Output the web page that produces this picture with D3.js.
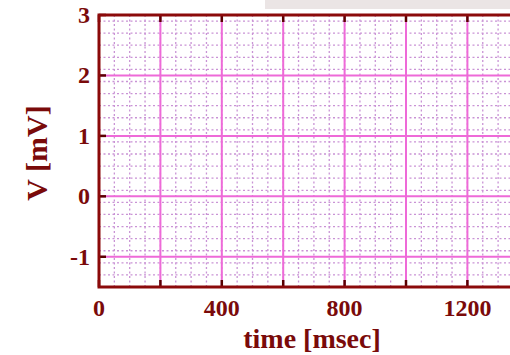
<!DOCTYPE html>
<html>
<head>
<meta charset="utf-8">
<script src="https://cdn.jsdelivr.net/npm/d3@7"></script>
<style>
  body { margin: 0; background: #fff; }
  svg { display: block; }
  .lbl { font-family: "Liberation Serif", "DejaVu Serif", serif; font-weight: bold; fill: #7a0a0a; }
</style>
</head>
<body>
<svg id="chart" width="510" height="355"></svg>
<script>
// axis values
var xTicks = [0, 400, 800, 1200];
var yTicks = [-1, 0, 1, 2, 3];
var xMajor = [0, 200, 400, 600, 800, 1000, 1200, 1400];
var yMajor = [-1, 0, 1, 2, 3];
var xDomain = [0, 1400];
var yDomain = [-1.5, 3];
var xMinorStep = 50;
var yMinorStep = 0.2;

var svg = d3.select("#chart");

var x = d3.scaleLinear().domain(xDomain).range([99, 99 + 1400 * 0.307]);
var y = d3.scaleLinear().domain(yDomain).range([287, 15]);

// grey strip at the very top (scan artefact)
svg.append("rect")
  .attr("x", 265).attr("y", 0).attr("width", 245).attr("height", 9)
  .style("fill", "#ebe5e5");

var xMinor = d3.range(xDomain[0], xDomain[1] + 1, xMinorStep);
var yMinor = d3.range(yDomain[0], yDomain[1] + 0.001, yMinorStep).map(v => Math.round(v * 10) / 10);

var g = svg.append("g");

// dotted minor grid
g.selectAll("line.minx")
  .data(xMinor)
  .join("line")
  .classed("minx", true)
  .attr("x1", d => x(d)).attr("x2", d => x(d))
  .attr("y1", y(yDomain[1])).attr("y2", y(yDomain[0]))
  .style("stroke", "#c993d5")
  .style("stroke-width", "1.3px")
  .style("stroke-dasharray", "2,2.5");

g.selectAll("line.miny")
  .data(yMinor)
  .join("line")
  .classed("miny", true)
  .attr("x1", x(xDomain[0])).attr("x2", x(xDomain[1]))
  .attr("y1", d => y(d)).attr("y2", d => y(d))
  .style("stroke", "#c993d5")
  .style("stroke-width", "1.3px")
  .style("stroke-dasharray", "2,2.5");

// solid major grid
g.selectAll("line.majx")
  .data(xMajor)
  .join("line")
  .classed("majx", true)
  .attr("x1", d => x(d)).attr("x2", d => x(d))
  .attr("y1", y(yDomain[1])).attr("y2", y(yDomain[0]))
  .style("stroke", "#ee6ad8")
  .style("stroke-width", "2px");

g.selectAll("line.majy")
  .data(yMajor)
  .join("line")
  .classed("majy", true)
  .attr("x1", x(xDomain[0])).attr("x2", x(xDomain[1]))
  .attr("y1", d => y(d)).attr("y2", d => y(d))
  .style("stroke", "#ee6ad8")
  .style("stroke-width", "2px");

// inner tick marks
g.selectAll("line.tb")
  .data(xMajor)
  .join("line")
  .classed("tb", true)
  .attr("x1", d => x(d)).attr("x2", d => x(d))
  .attr("y1", y(yDomain[0])).attr("y2", y(yDomain[0]) - 7)
  .style("stroke", "#5a0000").style("stroke-width", "2.5px");

g.selectAll("line.tt")
  .data(xMajor)
  .join("line")
  .classed("tt", true)
  .attr("x1", d => x(d)).attr("x2", d => x(d))
  .attr("y1", y(yDomain[1])).attr("y2", y(yDomain[1]) + 7)
  .style("stroke", "#5a0000").style("stroke-width", "2.5px");

g.selectAll("line.tl")
  .data(yMajor)
  .join("line")
  .classed("tl", true)
  .attr("x1", x(0)).attr("x2", x(0) + 7)
  .attr("y1", d => y(d)).attr("y2", d => y(d))
  .style("stroke", "#5a0000").style("stroke-width", "2.5px");

// frame
g.append("rect")
  .attr("x", x(xDomain[0])).attr("y", y(yDomain[1]))
  .attr("width", x(xDomain[1]) - x(xDomain[0]))
  .attr("height", y(yDomain[0]) - y(yDomain[1]))
  .style("fill", "none")
  .style("stroke", "#8b0a0a")
  .style("stroke-width", "3px");

// tick labels
svg.selectAll("text.xl")
  .data(xTicks)
  .join("text")
  .attr("class", "lbl xl")
  .attr("x", d => x(d)).attr("y", 316)
  .attr("text-anchor", "middle")
  .style("font-size", "24px")
  .text(d => d);

svg.selectAll("text.yl")
  .data(yTicks)
  .join("text")
  .attr("class", "lbl yl")
  .attr("x", 90).attr("y", d => y(d) + 8)
  .attr("text-anchor", "end")
  .style("font-size", "24px")
  .text(d => d);

// axis titles
svg.append("text")
  .attr("class", "lbl")
  .attr("x", 312).attr("y", 348)
  .attr("text-anchor", "middle")
  .style("font-size", "28px")
  .text("time [msec]");

svg.append("text")
  .attr("class", "lbl")
  .attr("transform", "translate(47,153) rotate(-90)")
  .attr("text-anchor", "middle")
  .style("font-size", "30px")
  .text("V [mV]");
</script>
</body>
</html>
